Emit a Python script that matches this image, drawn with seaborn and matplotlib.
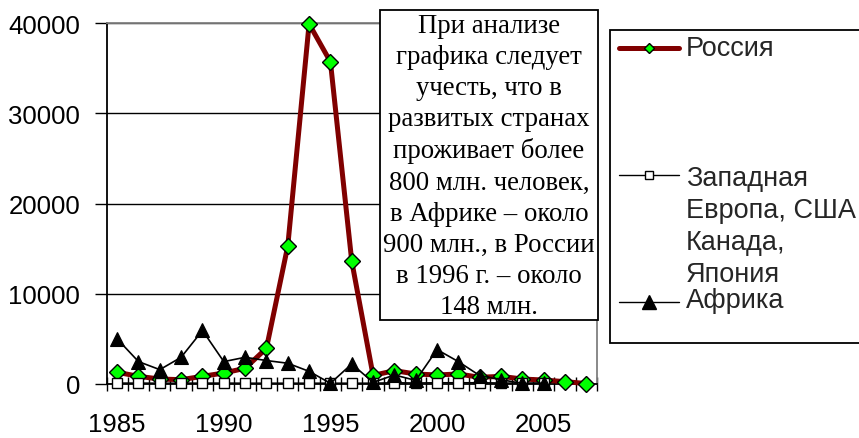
import numpy as np
import pandas as pd
import matplotlib
matplotlib.use("Agg")
import matplotlib.pyplot as plt
import seaborn as sns
from matplotlib.lines import Line2D
from matplotlib.patches import Rectangle

# ---- data ----
years = list(range(1985, 2008))
russia = [1300, 850, 550, 480, 850, 1220, 1740, 3960, 15300, 39900, 35700,
          13600, 950, 1480, 1110, 1000, 1110, 740, 850, 550, 440, 260, 50]
west_years = list(range(1985, 2006))
west = [110, 110, 100, 100, 110, 110, 100, 100, 100, 100, 100,
        100, 100, 150, 120, 150, 150, 150, 120, 100, 100]
africa_years = list(range(1985, 2006))
africa = [5000, 2480, 1590, 2960, 5930, 2480, 2960, 2600, 2300, 1400, 80,
          2220, 180, 1000, 400, 3810, 2480, 930, 480, 60, 100]

y_ticks = [0, 10000, 20000, 30000, 40000]
x_labels = [1985, 1990, 1995, 2000, 2005]

label_russia = "Россия"
label_west = "Западная\nЕвропа, США\nКанада,\nЯпония"
label_africa = "Африка"
note = ("При анализе\nграфика следует\nучесть, что в\nразвитых странах\n"
        "проживает более\n800 млн. человек,\nв Африке – около\n"
        "900 млн., в России\nв 1996 г. – около\n148 млн.")

df_r = pd.DataFrame({"year": years, "value": russia})
df_w = pd.DataFrame({"year": west_years, "value": west})
df_a = pd.DataFrame({"year": africa_years, "value": africa})

sns.set_theme(style="white")
plt.rcParams["font.family"] = ["Liberation Sans", "DejaVu Sans"]

W, H = 859, 439
fig = plt.figure(figsize=(W / 100, H / 100), dpi=100)
fig.patch.set_facecolor("white")

def fx(x):
    return x / W

def fy(y):
    return 1 - y / H

L, R, T, B = 106.5, 597, 24, 385
ax = fig.add_axes([fx(L), fy(B), fx(R - L), (B - T) / H])
ax.set_facecolor("white")

RED = "#800000"
sns.lineplot(data=df_r, x="year", y="value", ax=ax, color=RED, lw=3.6,
             marker="D", markersize=8, markerfacecolor="#00FF00",
             markeredgecolor="black", markeredgewidth=1.0, zorder=3,
             solid_joinstyle="round", solid_capstyle="round")
sns.lineplot(data=df_w, x="year", y="value", ax=ax, color="black", lw=1.0,
             marker="s", markersize=7.5, markerfacecolor="white",
             markeredgecolor="black", markeredgewidth=1.0, zorder=4)
sns.lineplot(data=df_a, x="year", y="value", ax=ax, color="black", lw=1.2,
             marker="^", markersize=10.5, markerfacecolor="black",
             markeredgecolor="black", markeredgewidth=0.8, zorder=5)
for ln in ax.lines:
    ln.set_clip_on(False)

ax.set_xlim(years[0] - 0.5, years[-1] + 0.5)
ax.set_ylim(0, 40000)
ax.set_xlabel("")
ax.set_ylabel("")

ax.set_yticks(y_ticks)
ax.set_yticklabels([str(v) for v in y_ticks])
ax.set_xticks(x_labels)
ax.set_xticklabels([str(v) for v in x_labels])
ax.set_xticks(np.arange(years[0] - 0.5, years[-1] + 1.0, 1.0), minor=True)

ax.tick_params(axis="y", which="major", direction="out", length=9, width=1,
               color="black", pad=10, labelsize=18.5, left=True)
ax.tick_params(axis="x", which="major", length=0, pad=20, labelsize=18.5, bottom=True)
ax.tick_params(axis="x", which="minor", direction="inout", length=10, width=1,
               color="black", bottom=True)
for lab in ax.get_xticklabels() + ax.get_yticklabels():
    lab.set_color("black")

ax.yaxis.grid(True, color="black", lw=1.0)
ax.xaxis.grid(False)
ax.set_axisbelow(True)

for s in ["left", "bottom"]:
    ax.spines[s].set_color("black")
    ax.spines[s].set_linewidth(1.3)
    ax.spines[s].set_zorder(2.5)
for s in ["top", "right"]:
    ax.spines[s].set_color("#808080")
    ax.spines[s].set_linewidth(1.3)

# ---- annotation box ----
bx0, by0, bx1, by1 = 380, 10.5, 598, 321
fig.add_artist(Rectangle((fx(bx0), fy(by1)), fx(bx1 - bx0), (by1 - by0) / H,
                         transform=fig.transFigure, facecolor="white",
                         edgecolor="black", lw=1.3, zorder=10))
fig.text(fx((bx0 + bx1) / 2), fy((by0 + by1) / 2 + 1), note, ha="center", va="center",
         multialignment="center", fontsize=19.3, family=["Liberation Serif", "DejaVu Serif"],
         linespacing=1.32, color="black", zorder=11)

# ---- legend ----
fig.add_artist(Rectangle((fx(610), fy(344)), fx(270), (344 - 30.5) / H,
                         transform=fig.transFigure, facecolor="white",
                         edgecolor="black", lw=1.3, zorder=10, clip_on=False))

def leg_entry(y, lw, color, marker, ms, mfc):
    fig.add_artist(Line2D([fx(619), fx(679)], [fy(y), fy(y)], transform=fig.transFigure,
                          color=color, lw=lw, solid_capstyle="round", zorder=11))
    fig.add_artist(Line2D([fx(649)], [fy(y)], transform=fig.transFigure, ls="none",
                          marker=marker, markersize=ms, markerfacecolor=mfc,
                          markeredgecolor="black", markeredgewidth=1.0, zorder=12))

leg_entry(49, 3.6, RED, "D", 5.5, "#00FF00")
leg_entry(176, 1.0, "black", "s", 6.0, "white")
leg_entry(302.5, 1.0, "black", "^", 10, "black")

fig.text(fx(686), fy(49), label_russia, ha="left", va="center", fontsize=19.5, zorder=12)
fig.text(fx(686), fy(226.7), label_west, ha="left", va="center", fontsize=19.5,
         linespacing=1.3, zorder=12)
fig.text(fx(686), fy(301), label_africa, ha="left", va="center", fontsize=19.5, zorder=12)

fig.savefig("out.png", dpi=100, facecolor="white")
